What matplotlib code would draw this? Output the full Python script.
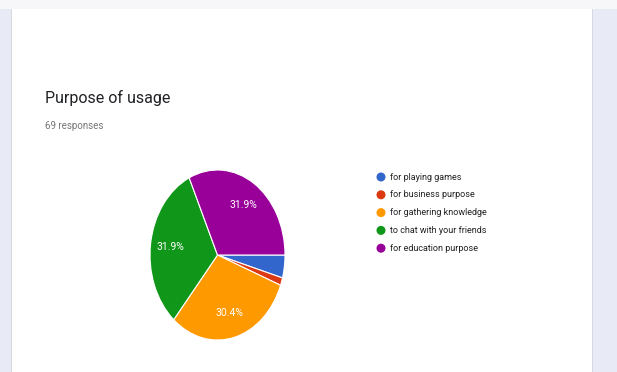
import matplotlib.pyplot as plt
from matplotlib.patches import Rectangle, Ellipse

# Survey data (69 responses)
labels = ["for playing games", "for business purpose", "for gathering knowledge",
          "to chat with your friends", "for education purpose"]
counts = [3, 1, 21, 22, 22]
colors = ["#3366cc", "#dc3912", "#ff9900", "#109618", "#990099"]

W, H = 617, 372
fig = plt.figure(figsize=(W / 100, H / 100), dpi=100)
fig.patch.set_facecolor("#e8eaf6")

# page strip on top and white card
fig.patches.append(Rectangle((0, (H - 9) / H), 1, 9 / H, transform=fig.transFigure,
                             facecolor="#f7f7f9", edgecolor="none", zorder=0))
fig.patches.append(Rectangle((11 / W, 0), 1 / W, (H - 9) / H, transform=fig.transFigure,
                             facecolor="#d6d8e4", edgecolor="none", zorder=0))
fig.patches.append(Rectangle((12 / W, 0), 580 / W, (H - 9) / H, transform=fig.transFigure,
                             facecolor="white", edgecolor="none", zorder=0))
fig.patches.append(Rectangle((592 / W, 0), 1 / W, (H - 9) / H, transform=fig.transFigure,
                             facecolor="#d6d8e4", edgecolor="none", zorder=0))

fig.text(45 / W, 1 - 98 / H, "Purpose of usage", fontsize=11.5, color="#202124",
         va="center", ha="left", family="Roboto")
fig.text(45 / W, 1 - 126 / H, "69 responses", fontsize=7, color="#757575",
         va="center", ha="left", family="Roboto")

# pie axes (slightly stretched vertically like the screenshot)
ax = fig.add_axes([150 / W, (H - 340) / H, 135 / W, 170 / H], zorder=3)
ax.patch.set_visible(False)
wedges, texts, autotexts = ax.pie(
    counts, colors=colors, startangle=0, counterclock=False,
    autopct=lambda p: f"{p:.1f}%" if p > 5 else "", pctdistance=0.7,
    wedgeprops=dict(edgecolor="white", linewidth=0.8),
    textprops=dict(color="white", fontsize=7.5, family="Roboto"))
ax.set_aspect("auto")
ax.set_xlim(-1, 1)
ax.set_ylim(-1, 1)
ax.axis("off")

# legend
for i, (lab, c) in enumerate(zip(labels, colors)):
    y = 1 - (177 + i * 17.8) / H
    fig.patches.append(Ellipse((381 / W, y), 9 / W, 9 / H, transform=fig.transFigure,
                               facecolor=c, edgecolor="none", zorder=2))
    fig.text(390 / W, y, lab, fontsize=6.5, color="#222222", va="center", ha="left",
             family="Roboto")

fig.savefig("out.png", dpi=100, facecolor=fig.get_facecolor())
